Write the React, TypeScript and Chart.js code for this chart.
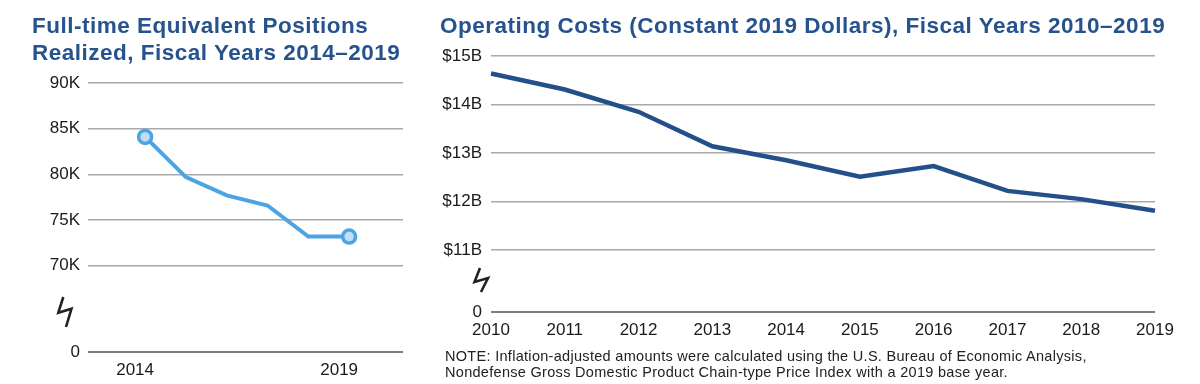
import { useEffect, useRef } from 'react';
import { Chart, registerables } from 'chart.js';

Chart.register(...registerables);

const FONT = "'Liberation Sans', Arial, Helvetica, sans-serif";

// ---- Left chart: Full-time Equivalent Positions ----
const fteYears = [2014, 2015, 2016, 2017, 2018, 2019];
const fteValues = [84100, 79700, 77700, 76600, 73200, 73200];
const fteYTicks = [70000, 75000, 80000, 85000, 90000];
const fteXTicks = [2014, 2019];
const fteBreakBase = 60570; // where the "0" baseline sits below the axis break

// ---- Right chart: Operating Costs (billions, constant 2019 dollars) ----
const costYears = ['2010', '2011', '2012', '2013', '2014', '2015', '2016', '2017', '2018', '2019'];
const costBillions = [14.64, 14.31, 13.85, 13.14, 12.85, 12.51, 12.73, 12.22, 12.05, 11.81];
const costYTicks = [11, 12, 13, 14, 15];
const costBreakBase = 9.724;

const leftTitle = ['Full-time Equivalent Positions', 'Realized, Fiscal Years 2014\u20132019'];
const rightTitle = 'Operating Costs (Constant 2019 Dollars), Fiscal Years 2010\u20132019';
const noteLines = [
  'NOTE: Inflation-adjusted amounts were calculated using the U.S. Bureau of Economic Analysis,',
  'Nondefense Gross Domestic Product Chain-type Price Index with a 2019 base year.',
];

const TITLE_COLOR = '#26538d';
const TICK_COLOR = '#1a1a1a';
const GRID_COLOR = '#a9a9a9';
const BASE_COLOR = '#7f7f7f';
const TICK_SIZE = 17;

function breakPlugin(pts: number[][]) {
  return {
    id: 'axisBreak',
    afterDraw(chart: any) {
      const { ctx, chartArea } = chart;
      ctx.save();
      ctx.strokeStyle = '#222';
      ctx.lineWidth = 2.6;
      ctx.lineJoin = 'miter';
      ctx.beginPath();
      pts.forEach(([dx, dy], i) => {
        const x = chartArea.left + dx;
        const y = chartArea.bottom + dy;
        if (i === 0) ctx.moveTo(x, y);
        else ctx.lineTo(x, y);
      });
      ctx.stroke();
      ctx.restore();
    },
  };
}

function gridFor(base: number) {
  return {
    drawTicks: false,
    color: (c: any) => (c.tick && c.tick.value === base ? BASE_COLOR : GRID_COLOR),
    lineWidth: (c: any) => (c.tick && c.tick.value === base ? 2 : 1.5),
  };
}

function LeftChart() {
  const ref = useRef<HTMLCanvasElement | null>(null);
  useEffect(() => {
    if (!ref.current) return;
    const chart = new Chart(ref.current, {
      type: 'line',
      data: {
        datasets: [
          {
            data: fteYears.map((y, i) => ({ x: y, y: fteValues[i] })),
            borderColor: '#4ca5e2',
            borderWidth: 4,
            tension: 0,
            pointRadius: fteValues.map((_, i) => (i === 0 || i === fteValues.length - 1 ? 6.5 : 0)),
            pointBorderWidth: 3.5,
            pointBackgroundColor: '#c3def3',
            pointBorderColor: '#4ca5e2',
          },
        ],
      },
      options: {
        responsive: false,
        animation: false,
        events: [],
        layout: { padding: { top: 83, right: 17, left: 0, bottom: 0 } },
        plugins: { legend: { display: false }, tooltip: { enabled: false }, title: { display: false } },
        scales: {
          x: {
            type: 'linear',
            min: 2012.6,
            max: 2020.32,
            afterBuildTicks: (s: any) => {
              s.ticks = fteXTicks.map((v) => ({ value: v }));
            },
            afterFit: (s: any) => {
              s.height = 32;
            },
            ticks: {
              callback: (v: any) => String(v),
              color: TICK_COLOR,
              font: { family: FONT, size: TICK_SIZE },
              padding: 0,
              labelOffset: -10,
              maxRotation: 0,
              autoSkip: false,
            },
            grid: { display: false },
            border: { display: false },
          },
          y: {
            type: 'linear',
            min: fteBreakBase,
            max: 90000,
            afterBuildTicks: (s: any) => {
              s.ticks = [fteBreakBase, ...fteYTicks].map((v) => ({ value: v }));
            },
            afterFit: (s: any) => {
              s.width = 88;
            },
            ticks: {
              callback: (v: any) => (v === fteBreakBase ? '0' : `${Math.round(v / 1000)}K`),
              color: TICK_COLOR,
              font: { family: FONT, size: TICK_SIZE },
              padding: 8,
              autoSkip: false,
            },
            grid: gridFor(fteBreakBase),
            border: { display: false },
          },
        },
      },
      plugins: [breakPlugin([[-24.7, -55], [-29.7, -39.3], [-16.5, -43.3], [-22, -25]])],
    } as any);
    return () => chart.destroy();
  }, []);
  return <canvas ref={ref} width={420} height={384} style={{ position: 'absolute', left: 0, top: 0, width: 420, height: 384 }} />;
}

function RightChart() {
  const ref = useRef<HTMLCanvasElement | null>(null);
  useEffect(() => {
    if (!ref.current) return;
    const chart = new Chart(ref.current, {
      type: 'line',
      data: {
        labels: costYears,
        datasets: [
          {
            data: costBillions,
            borderColor: '#24508a',
            borderWidth: 4.5,
            tension: 0,
            pointRadius: 0,
          },
        ],
      },
      options: {
        responsive: false,
        animation: false,
        events: [],
        layout: { padding: { top: 56, right: 45, left: 0, bottom: 0 } },
        plugins: { legend: { display: false }, tooltip: { enabled: false }, title: { display: false } },
        scales: {
          x: {
            type: 'category',
            offset: false,
            afterFit: (s: any) => {
              s.height = 72;
            },
            ticks: {
              color: TICK_COLOR,
              font: { family: FONT, size: TICK_SIZE },
              padding: 0,
              maxRotation: 0,
              autoSkip: false,
            },
            grid: { display: false },
            border: { display: false },
          },
          y: {
            type: 'linear',
            min: costBreakBase,
            max: 15,
            afterBuildTicks: (s: any) => {
              s.ticks = [costBreakBase, ...costYTicks].map((v) => ({ value: v }));
            },
            afterFit: (s: any) => {
              s.width = 71;
            },
            ticks: {
              callback: (v: any) => (v === costBreakBase ? '0' : `$${v}B`),
              color: TICK_COLOR,
              font: { family: FONT, size: TICK_SIZE },
              padding: 9,
              autoSkip: false,
            },
            grid: gridFor(costBreakBase),
            border: { display: false },
          },
        },
      },
      plugins: [breakPlugin([[-11, -44], [-16.5, -30], [-3, -34], [-10, -20]])],
    } as any);
    return () => chart.destroy();
  }, []);
  return <canvas ref={ref} width={780} height={384} style={{ position: 'absolute', left: 420, top: 0, width: 780, height: 384 }} />;
}

const titleStyle: any = {
  position: 'absolute',
  top: 12,
  margin: 0,
  fontFamily: FONT,
  fontWeight: 'bold',
  fontSize: 22.5,
  lineHeight: '27px',
  letterSpacing: '0.5px',
  color: TITLE_COLOR,
  whiteSpace: 'nowrap',
};

export default function App() {
  return (
    <div style={{ position: 'absolute', left: 0, top: 0, width: 1200, height: 384, background: '#fff', overflow: 'hidden' }}>
      <LeftChart />
      <RightChart />
      <div style={{ ...titleStyle, left: 32 }}>
        {leftTitle[0]}
        <br />
        {leftTitle[1]}
      </div>
      <div style={{ ...titleStyle, left: 440 }}>{rightTitle}</div>
      <div
        style={{
          position: 'absolute',
          left: 445,
          top: 348,
          fontFamily: FONT,
          fontSize: 14.5,
          lineHeight: '16.3px',
          letterSpacing: '0.3px',
          color: '#222',
          whiteSpace: 'nowrap',
        }}
      >
        {noteLines[0]}
        <br />
        {noteLines[1]}
      </div>
    </div>
  );
}
